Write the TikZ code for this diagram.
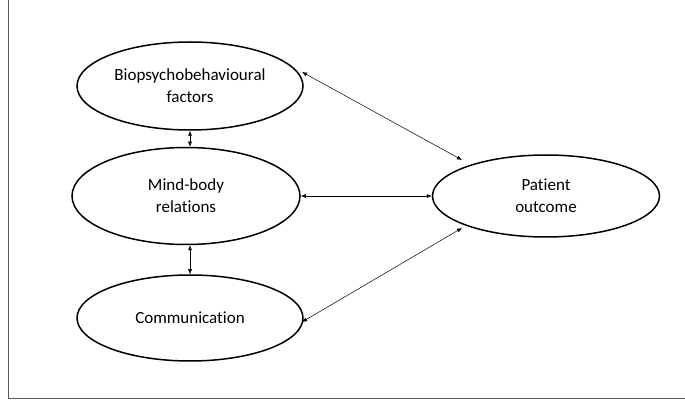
\documentclass[tikz,border=0pt]{standalone}
\usepackage{fontspec}
\setmainfont{Carlito}[Ligatures=NoCommon]
\usetikzlibrary{shapes.geometric,arrows.meta}
\begin{document}
\begin{tikzpicture}[x=1pt,y=-1pt,
  el/.style={ellipse,draw,line width=1.5pt,minimum width=226pt,minimum height=#1,inner sep=0pt,align=center,font=\fontsize{17}{22}\selectfont},
  ar/.style={{Latex[length=5pt,width=4pt]}-{Latex[length=5pt,width=4pt]},line width=0.5pt}]
\useasboundingbox (0,0) rectangle (685,403);
\draw[line width=0.8pt,gray!70!black] (8,0) -- (8,398) -- (685,398);
\node[el=88pt] (bio) at (190,86) {Biopsychobehavioural\\factors};
\node[el=97pt,minimum width=228pt] (mind) at (186,196) {Mind-body\\relations};
\node[el=86pt] (comm) at (190,318) {Communication};
\node[el=82pt,minimum width=227pt] (pat) at (546,196) {Patient\\outcome};
\coordinate (b1) at (302,72);
\coordinate (p1) at (462,160);
\coordinate (c1) at (302,322);
\coordinate (p2) at (462,228);
\draw[ar] (bio.south) -- (mind.north -| bio.south);
\draw[ar] (mind.south -| bio.south) -- (comm.north);
\draw[ar] (b1) -- (p1);
\draw[ar] (mind.east) -- (pat.west);
\draw[ar] (c1) -- (p2);
\end{tikzpicture}
\end{document}
